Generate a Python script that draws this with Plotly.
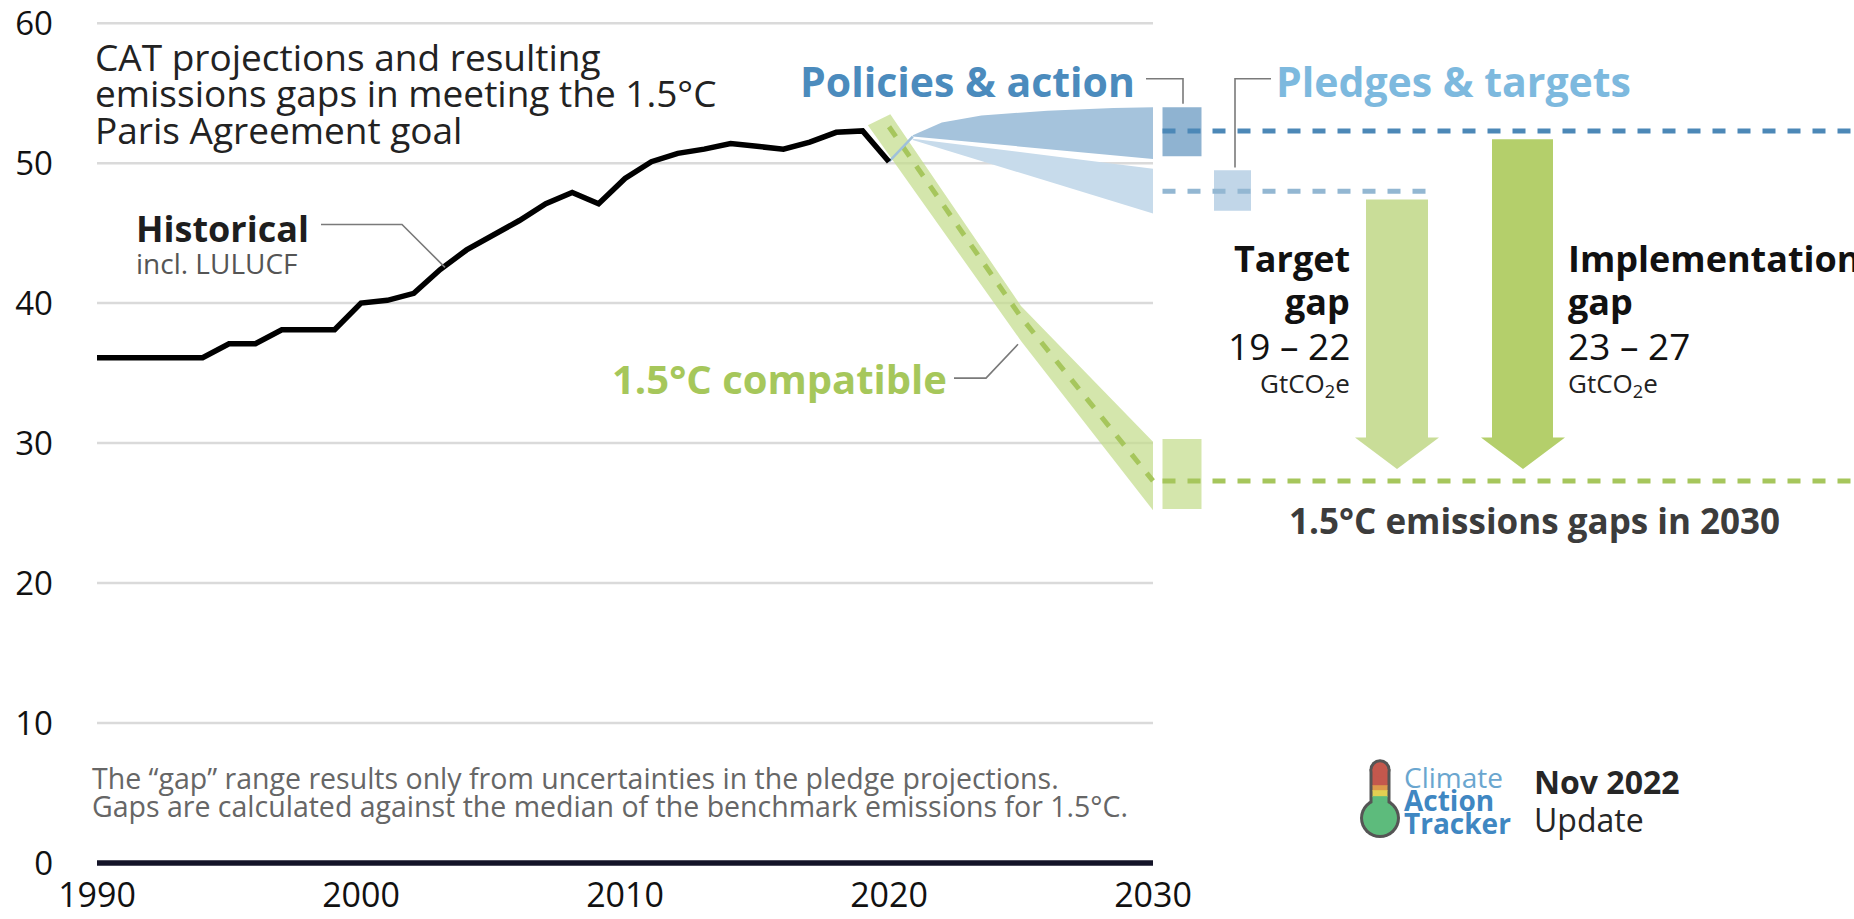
import plotly.graph_objects as go

# ---------------- data ----------------
hist_years = list(range(1990, 2021))
hist_vals = [36.1, 36.1, 36.1, 36.1, 36.1, 37.1, 37.1, 38.1, 38.1, 38.1,
             40.0, 40.2, 40.7, 42.4, 43.8, 44.8, 45.9, 47.1, 47.9, 47.1,
             48.9, 50.1, 50.7, 51.0, 51.4, 51.2, 51.0, 51.5, 52.2, 52.3, 50.1]

fan_years = [2020.9, 2022, 2023.5, 2026, 2028.5, 2030]
pol_upper = [52.0, 52.9, 53.4, 53.75, 53.93, 54.0]
pol_lower = [51.9, 51.71, 51.44, 51.0, 50.56, 50.3]
ple_upper = [51.75, 51.49, 51.14, 50.55, 49.96, 49.6]
ple_lower = [51.65, 51.0, 50.15, 48.7, 47.27, 46.4]

band_upper_years = [2020.05, 2025, 2030]
band_upper = [53.5, 39.8, 30.1]
band_lower_years = [2019.2, 2025, 2030]
band_lower = [52.7, 37.3, 25.2]
median_years = [2020.0, 2025, 2030]
median_vals = [52.6, 39.0, 27.3]

pol_range_2030 = [50.5, 54.0]
ple_range_2030 = [46.6, 49.5]
cmp_range_2030 = [25.3, 30.3]
pol_median_2030 = 52.3
ple_median_2030 = 48.0
cmp_median_2030 = 27.3

x_ticks = [1990, 2000, 2010, 2020, 2030]
x_ticktext = ["1990", "2000", "2010", "2020", "2030"]
y_ticks = [0, 10, 20, 30, 40, 50, 60]
y_ticktext = ["0", "10", "20", "30", "40", "50", "60"]

# ---------------- geometry helpers (layout only) ----------------
W, H = 1854, 919
ML, MB = 60, 47
PW, PH = W - ML, H - MB
PXY = 26.4      # pixels per year
PXV = 14.03     # pixels per unit
X0PX, Y0PX = 97, 863
x_range = [1990 - (X0PX - ML) / PXY, 1990 + (W - X0PX) / PXY]
y_range = [-(PH - Y0PX) / PXV, Y0PX / PXV]


def X(px):
    return 1990 + (px - X0PX) / PXY


def Y(py):
    return (Y0PX - py) / PXV


def PPX(px):
    return (px - ML) / PW


def PPY(py):
    return (PH - py) / PH


XR = x_range[1]

FONT = "Open Sans"

fig = go.Figure()


def poly(xs, ys, color, name):
    fig.add_trace(go.Scatter(x=xs, y=ys, fill="toself", fillcolor=color, mode="lines",
                             line=dict(width=0, color=color), hoverinfo="skip", name=name))


# 1.5C band
poly(band_upper_years + band_lower_years[::-1] + [band_upper_years[0]],
     band_upper + band_lower[::-1] + [band_upper[0]], "rgba(196,220,140,0.72)", "band")

# policies and pledges fans
poly(fan_years + fan_years[::-1], pol_upper + pol_lower[::-1], "#a5c3dc", "policies fan")
poly(fan_years + fan_years[::-1], ple_upper + ple_lower[::-1], "#c7dbeb", "pledges fan")

# boxes at 2030
bx0, bx1 = X(1162.5), X(1201.5)
px0, px1 = X(1214), X(1251)
poly([bx0, bx1, bx1, bx0, bx0], [pol_range_2030[0]] * 2 + [pol_range_2030[1]] * 2 + [pol_range_2030[0]],
     "#8fb3d1", "policies box")
poly([px0, px1, px1, px0, px0], [ple_range_2030[0]] * 2 + [ple_range_2030[1]] * 2 + [ple_range_2030[0]],
     "#c1d6e8", "pledges box")
poly([bx0, bx1, bx1, bx0, bx0], [cmp_range_2030[0]] * 2 + [cmp_range_2030[1]] * 2 + [cmp_range_2030[0]],
     "rgba(196,220,140,0.72)", "compat box")

# median of 1.5C band
fig.add_trace(go.Scatter(x=median_years, y=median_vals, mode="lines",
                         line=dict(color="#a6c65c", width=5, dash="12px,12px"), hoverinfo="skip"))

# horizontal dashed lines
fig.add_trace(go.Scatter(x=[bx0, XR], y=[cmp_median_2030] * 2, mode="lines",
                         line=dict(color="#a6c65c", width=5, dash="13px,12px"), hoverinfo="skip"))
fig.add_trace(go.Scatter(x=[bx0, XR], y=[pol_median_2030] * 2, mode="lines",
                         line=dict(color="#4c88b7", width=5, dash="13px,12px"), hoverinfo="skip"))
fig.add_trace(go.Scatter(x=[bx0, X(1428)], y=[ple_median_2030] * 2, mode="lines",
                         line=dict(color="#93b7d2", width=5, dash="13px,12px"), hoverinfo="skip"))

# bridge from last historical point to projections
fig.add_trace(go.Scatter(x=[hist_years[-1], fan_years[0]], y=[hist_vals[-1], pol_lower[0]], mode="lines",
                         line=dict(color="#9fc0da", width=2.5), hoverinfo="skip"))

# historical line
fig.add_trace(go.Scatter(x=hist_years, y=hist_vals, mode="lines",
                         line=dict(color="#000000", width=5.5), hoverinfo="skip"))


# gap arrows
def arrow(top, tip, b0, b1, h0, h1, color, name):
    head_base = tip + 2.25
    xm = (h0 + h1) / 2
    poly([b0, b1, b1, h1, xm, h0, b0, b0],
         [top, top, head_base, head_base, tip, head_base, head_base, top], color, name)


tip_val = cmp_median_2030 + 0.85
arrow(ple_median_2030 - 0.6, tip_val, X(1366), X(1428), X(1355), X(1439), "#c9dd98", "target gap")
arrow(pol_median_2030 - 0.6, tip_val, X(1492), X(1553), X(1481), X(1565), "#b4cf6b", "implementation gap")

# ---------------- shapes ----------------
shapes = []
for v in y_ticks[1:]:
    shapes.append(dict(type="line", xref="x", yref="y", x0=1990, x1=2030, y0=v, y1=v,
                       line=dict(color="#dadada", width=2.5), layer="below"))
shapes.append(dict(type="line", xref="x", yref="y", x0=1990, x1=2030, y0=0, y1=0,
                   line=dict(color="#141428", width=5.5), layer="above"))

# connectors
conn = dict(color="#7a7a7a", width=1.6)


def path_px(pts):
    s = ""
    for i, (a, b) in enumerate(pts):
        s += ("M" if i == 0 else "L") + f"{X(a)},{Y(b)} "
    return s


for pts in ([(321, 223), (402, 223), (445, 266)],
            [(954, 377), (986, 377), (1018, 343)],
            [(1146, 77), (1183, 77), (1183, 102)],
            [(1235, 166), (1235, 77), (1271, 77)]):
    shapes.append(dict(type="path", xref="x", yref="y", path=path_px(pts), line=conn))


# thermometer logo (pixel geometry)
def circ(cx, cy, r, color):
    return dict(type="circle", xref="paper", yref="paper", x0=PPX(cx - r), x1=PPX(cx + r),
                y0=PPY(cy + r), y1=PPY(cy - r), fillcolor=color, line=dict(width=0), layer="above")


def rect(x0, x1, y0, y1, color):
    return dict(type="rect", xref="paper", yref="paper", x0=PPX(x0), x1=PPX(x1),
                y0=PPY(y1), y1=PPY(y0), fillcolor=color, line=dict(width=0), layer="above")


shapes += [
    circ(1380, 818, 20, "#555555"),
    rect(1369.5, 1390.5, 769, 812, "#555555"),
    circ(1380, 769.5, 10.5, "#555555"),
    rect(1372.5, 1387.5, 769, 786, "#c4584d"),
    circ(1380, 769.5, 7.5, "#c4584d"),
    rect(1372.5, 1387.5, 785, 791, "#dd9a4b"),
    rect(1372.5, 1387.5, 790, 797, "#e3cf52"),
    rect(1372.5, 1387.5, 796, 812, "#5dbb7c"),
    circ(1380, 818, 17, "#5dbb7c"),
]

# ---------------- annotations ----------------
ann = []


def text(t, px, py, size, color="#222222", bold=False, anchor="left", yanchor="middle"):
    if bold:
        t = "<b>" + t + "</b>"
    ann.append(dict(text=t, xref="paper", yref="paper", x=PPX(px), y=PPY(py), showarrow=False,
                    xanchor=anchor, yanchor=yanchor, font=dict(family=FONT, size=size, color=color)))


text("CAT projections and resulting", 93, 55, 37, "#222222")
text("emissions gaps in meeting the 1.5°C", 93, 91, 37, "#222222")
text("Paris Agreement goal", 93, 128, 37, "#222222")

text("Historical", 134, 227, 36, "#1e1e1e", bold=True)
text("incl. LULUCF", 134, 262, 28, "#555555")

text("Policies & action", 1137, 79, 41, "#4b8bbd", bold=True, anchor="right")
text("Pledges & targets", 1274, 79, 41, "#7db9de", bold=True)
text("1.5°C compatible", 949, 377, 40, "#a6c75b", bold=True, anchor="right")

text("Target", 1352, 257, 36, "#111111", bold=True, anchor="right")
text("gap", 1352, 300, 36, "#111111", bold=True, anchor="right")
text("19 – 22", 1352, 344, 37, "#111111", anchor="right")
text("GtCO<sub>2</sub>e", 1352, 383, 26, "#222222", anchor="right")

text("Implementation", 1566, 257, 36, "#111111", bold=True)
text("gap", 1566, 300, 36, "#111111", bold=True)
text("23 – 27", 1566, 344, 37, "#111111")
text("GtCO<sub>2</sub>e", 1566, 383, 26, "#222222")

text("1.5°C emissions gaps in 2030", 1534, 520, 35, "#3c3c3c", bold=True, anchor="center")

text("The “gap” range results only from uncertainties in the pledge projections.", 90, 778, 28.5, "#666666")
text("Gaps are calculated against the median of the benchmark emissions for 1.5°C.", 90, 806, 28.5, "#666666")

text("Climate", 1402, 777, 28, "#6aa6cf")
text("Action", 1402, 800, 28, "#3f87c2", bold=True)
text("Tracker", 1402, 823, 28, "#3f87c2", bold=True)
text("Nov 2022", 1532, 781, 32, "#262626", bold=True)
text("Update", 1532, 819, 32, "#262626")

fig.update_layout(
    width=W, height=H,
    margin=dict(l=ML, r=0, t=0, b=MB, pad=0),
    paper_bgcolor="white", plot_bgcolor="white",
    showlegend=False,
    shapes=shapes, annotations=ann,
    font=dict(family=FONT, color="#111111"),
    xaxis=dict(range=x_range, showgrid=False, zeroline=False, showline=False,
               tickvals=x_ticks, ticktext=x_ticktext, ticks="", ticklabelstandoff=0,
               ticklabeloverflow="allow",
               tickfont=dict(family=FONT, size=34, color="#111111"), fixedrange=True),
    yaxis=dict(range=y_range, showgrid=False, zeroline=False, showline=False,
               tickvals=y_ticks, ticktext=y_ticktext, ticks="", ticklabelstandoff=6,
               ticklabeloverflow="allow",
               tickfont=dict(family=FONT, size=33, color="#111111"), fixedrange=True),
)

fig.write_html("out.html", config={"displayModeBar": False},
               post_script="document.body.style.margin='0';document.body.style.overflow='hidden';")
